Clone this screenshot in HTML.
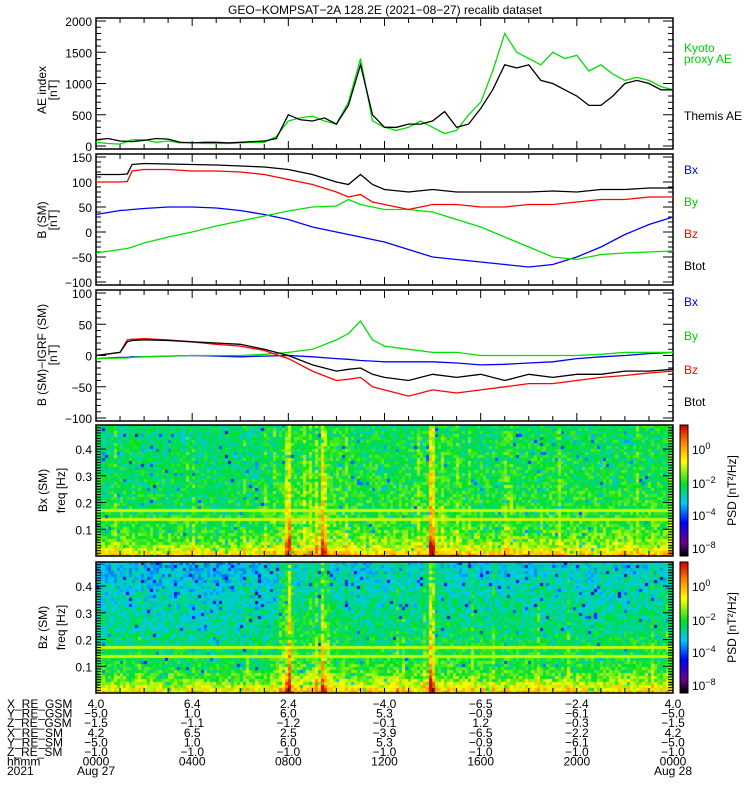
<!DOCTYPE html>
<html><head><meta charset="utf-8">
<style>
html,body{margin:0;padding:0;background:#fff;width:750px;height:800px;overflow:hidden}
#wrap{position:relative;width:750px;height:800px}
svg{position:absolute;left:0;top:0}
canvas{position:absolute}
text{font-family:"Liberation Sans",sans-serif;font-size:12px}
</style></head><body>
<div id="wrap">
<canvas id="spec1" width="577" height="131" style="left:96px;top:425px"></canvas>
<canvas id="spec2" width="577" height="131" style="left:96px;top:562px"></canvas>
<canvas id="cb1" width="8" height="131" style="left:680px;top:425px"></canvas>
<canvas id="cb2" width="8" height="131" style="left:680px;top:562px"></canvas>
<svg id="svg" width="750" height="800" xmlns="http://www.w3.org/2000/svg"></svg>
</div>
<script>
// ---- data ----
const hrsHalf = Array.from({length:49},(_,i)=>i*0.5);
const themisAE = [100,120,80,70,90,120,110,60,50,60,60,50,60,70,80,120,500,420,400,450,350,650,1300,500,300,300,350,350,400,550,300,350,600,900,1300,1250,1300,1050,1000,900,800,650,650,800,1000,1050,1000,900,900];
const kyotoAE = [60,40,30,100,100,60,80,50,60,40,40,40,50,60,60,150,400,450,480,400,350,700,1400,400,300,250,300,400,300,200,250,500,700,1200,1800,1500,1400,1300,1500,1400,1450,1200,1300,1150,1050,1100,1050,950,900];
const hrsB = [0,1,1.3,1.5,2,3,4,5,6,7,8,9,10,10.5,11,11.5,12,13,14,15,16,17,18,19,20,21,22,23,24];
const bBtot = [115,115,116,135,137,136,135,134,132,130,125,115,100,95,115,95,85,80,85,80,80,80,80,82,80,85,85,88,88];
const bBz = [100,100,101,122,125,125,122,122,120,115,105,95,80,70,75,60,55,45,55,55,50,50,55,55,60,65,65,70,70];
const bBx = [35,43,44,45,47,50,50,48,43,35,25,10,0,-5,-10,-15,-20,-35,-50,-55,-60,-65,-70,-65,-50,-30,-5,15,30];
const bBy = [-42,-35,-33,-30,-22,-10,0,12,22,32,42,50,52,65,55,50,45,45,40,25,10,-10,-30,-50,-55,-45,-42,-40,-38];
const dBtot = [0,5,22,24,25,24,22,20,18,10,0,-15,-25,-22,-20,-30,-35,-40,-30,-35,-30,-40,-30,-35,-30,-30,-25,-25,-22];
const dBz = [0,5,25,26,27,25,22,18,15,8,-5,-25,-40,-38,-35,-50,-55,-65,-55,-60,-55,-50,-45,-45,-40,-35,-32,-28,-25];
const dBx = [-5,-3,-3,-2,-2,-1,0,-1,-2,-1,0,-2,-5,-6,-8,-9,-10,-10,-10,-12,-15,-14,-12,-10,-5,-2,0,3,5];
const dBy = [-5,-4,-4,-3,-2,-1,0,0,0,2,5,10,25,35,55,25,15,10,5,5,0,0,0,0,0,2,5,5,5];
const specActivity = [0.55,0.56,0.55,0.55,0.55,0.55,0.55,0.56,0.6,0.6,0.6,0.58,0.58,0.58,0.6,0.58,0.58,0.58,0.58,0.58,0.58,0.57,0.58,0.58,0.58];
const burstHours = [7.9,8.0,9.2,9.35,9.5,13.9,14.0];
const burstStrength = [0.2,0.3,0.15,0.2,0.15,0.35,0.25];
const posRows = ["X_RE_GSM","Y_RE_GSM","Z_RE_GSM","X_RE_SM","Y_RE_SM","Z_RE_SM","hhmm","2021"];
const posCols = [
 ["4.0","-5.0","-1.5","4.2","-5.0","-1.0","0000","Aug 27"],
 ["6.4","1.0","-1.1","6.5","1.0","-1.0","0400",""],
 ["2.4","6.0","-1.2","2.5","6.0","-1.0","0800",""],
 ["-4.0","5.3","-0.1","-3.9","5.3","-1.0","1200",""],
 ["-6.5","-0.9","1.2","-6.5","-0.9","-1.0","1600",""],
 ["-2.4","-6.1","-0.3","-2.2","-6.1","-1.0","2000",""],
 ["4.0","-5.0","-1.5","4.2","-5.0","-1.0","0000","Aug 28"]];

const X0=96,X1=673;
const xs = h => X0 + (X1-X0)*h/24;
const svg=document.getElementById('svg');
const NS="http://www.w3.org/2000/svg";
function el(tag,attrs,parent){const e=document.createElementNS(NS,tag);for(const k in attrs)e.setAttribute(k,attrs[k]);(parent||svg).appendChild(e);return e;}
function txt(x,y,s,opts,parent){const t=el('text',Object.assign({x:x,y:y},opts||{}),parent);t.textContent=s;return t;}
function pretty(s){return s.replace(/-/g,'\u2212');}

const t=txt(385,14,"GEO\u2212KOMPSAT\u22122A 128.2E (2021\u221208\u221227) recalib dataset",{"text-anchor":"middle","font-size":"13"});



function panel(name,top,bot,vmin,vmax,ticks,minorStep,pad){
  const g=el('g',{});
  
  
  const yTop=top+pad,yBot=bot-pad;
  const ys=v=>yBot-(v-vmin)/(vmax-vmin)*(yBot-yTop);
  el('rect',{x:X0,y:top,width:X1-X0,height:bot-top,fill:'none',stroke:'#000','stroke-width':1.5},g);
  for(let v=vmin;v<=vmax+1e-9;v+=minorStep){const y=ys(v);const major=ticks.some(k=>Math.abs(k-v)<1e-9);const L=major?10:5;
    el('line',{x1:X0,y1:y,x2:X0+L,y2:y,stroke:'#000'},g);el('line',{x1:X1-L,y1:y,x2:X1,y2:y,stroke:'#000'},g);}
  ticks.forEach(v=>{txt(92,ys(v)+5,pretty(String(v)),{"text-anchor":"end","font-size":"13"},g);});
  for(let h=1;h<24;h++){const x=xs(h);const L=h%4==0?8:5;el('line',{x1:x,y1:top,x2:x,y2:top+L,stroke:'#000'},g);el('line',{x1:x,y1:bot,x2:x,y2:bot-L,stroke:'#000'},g);}
  return {g,ys};
}
function series(p,hours,vals,color,name){
  const d=vals.map((v,i)=>(i?'L':'M')+xs(hours[i]).toFixed(1)+','+p.ys(v).toFixed(1)).join(' ');
  const path=el('path',{d:d,fill:'none',stroke:color,'stroke-width':1.3},p.g);
  
  
}
function ylabel(x,y,lines,parent){
  const g=el('g',{transform:`translate(${x},${y}) rotate(-90)`},parent);
  lines.forEach((l,i)=>txt(0,i*11,l,{"text-anchor":"middle"},g));
}
function legend(x,y,s,c,n,parent){const e=txt(x,y,s,{fill:c,"font-size":"11"},parent);}

const p1=panel('ae-index-panel',18,149,0,2000,[0,500,1000,1500,2000],100,3);
series(p1,hrsHalf,kyotoAE,'#00e000','kyoto-ae-line');
series(p1,hrsHalf,themisAE,'#000','themis-ae-line');
ylabel(46,90,["AE index","[nT]"],p1.g);
legend(684,52,"Kyoto","#00d000","legend-kyoto",p1.g);legend(684,63,"proxy AE","#00d000","legend-kyoto2",p1.g);
legend(684,120,"Themis AE","#000","legend-themis",p1.g);
const p2=panel('b-sm-panel',154,285,-100,150,[-100,-50,0,50,100,150],10,3);
series(p2,hrsB,bBx,'#0000ff','bx-line');series(p2,hrsB,bBy,'#00e000','by-line');
series(p2,hrsB,bBz,'#ff0000','bz-line');series(p2,hrsB,bBtot,'#000','btot-line');
ylabel(46,220,["B (SM)","[nT]"],p2.g);
legend(684,174,"Bx","#0000ff","legend-bx",p2.g);legend(684,206,"By","#00d000","legend-by",p2.g);
legend(684,238,"Bz","#ff0000","legend-bz",p2.g);legend(684,270,"Btot","#000","legend-btot",p2.g);
const p3=panel('b-minus-igrf-panel',290,421,-100,100,[-100,-50,0,50,100],10,3);
series(p3,hrsB,dBx,'#0000ff','dbx-line');series(p3,hrsB,dBy,'#00e000','dby-line');
series(p3,hrsB,dBz,'#ff0000','dbz-line');series(p3,hrsB,dBtot,'#000','dbtot-line');
ylabel(46,355,["B (SM)\u2212IGRF (SM)","[nT]"],p3.g);
legend(684,306,"Bx","#0000ff","legend-dbx",p3.g);legend(684,340,"By","#00d000","legend-dby",p3.g);
legend(684,374,"Bz","#ff0000","legend-dbz",p3.g);legend(684,406,"Btot","#000","legend-dbtot",p3.g);

function specPanel(name,top,bot,label){
  const g=el('g',{});
  el('rect',{x:X0,y:top,width:X1-X0,height:bot-top,fill:'none',stroke:'#000','stroke-width':1.5},g);
  const ys=f=>bot-f/0.49*(bot-top);
  for(let f=0.01;f<0.49;f+=0.01){const y=ys(f);const L=(Math.round(f*100)%10==0)?10:5;el('line',{x1:X0,y1:y,x2:X0+L,y2:y,stroke:'#000'},g);el('line',{x1:X1-L,y1:y,x2:X1,y2:y,stroke:'#000'},g);}
  [0.1,0.2,0.3,0.4].forEach(f=>txt(92,ys(f)+5,String(f),{"text-anchor":"end","font-size":"13"},g));
  for(let h=1;h<24;h++){const x=xs(h);el('line',{x1:x,y1:bot,x2:x,y2:bot-5,stroke:'#000'},g);}
  ylabel(47,(top+bot)/2,[label],g);ylabel(65,(top+bot)/2,["freq [Hz]"],g);
  el('rect',{x:680,y:top,width:8,height:bot-top,fill:'none',stroke:'#000'},g);
  [["10","0",449-425],["10","\u22122",483-425],["10","\u22124",515-425],["10","\u22128",548-425]].forEach(a=>{
    const e=txt(692,top+a[2]+5,a[0],{"font-size":"12"},g);const s=el('tspan',{dy:-5,"font-size":"9"},e);s.textContent=a[1];});
  ylabel(736,(top+bot)/2,["PSD [nT\u00b2/Hz]"],g);
}
specPanel('bx-spectrogram-panel',425,556,"Bx (SM)");
specPanel('bz-spectrogram-panel',562,693,"Bz (SM)");

const stops=[[0,[0,0,0]],[0.1,[110,0,140]],[0.25,[0,0,255]],[0.4,[0,200,255]],[0.55,[0,225,40]],[0.72,[255,255,0]],[0.86,[255,140,0]],[1,[210,0,0]]];
function cmap(v){v=Math.max(0,Math.min(1,v));for(let i=1;i<stops.length;i++){if(v<=stops[i][0]){const a=stops[i-1],b=stops[i];const t=(v-a[0])/(b[0]-a[0]);return a[1].map((c,k)=>Math.round(c+(b[1][k]-c)*t));}}return stops[stops.length-1][1];}
function hash(a,b,s){let h=(a*374761393+b*668265263+s*982451653)|0;h=(h^(h>>>13))*1274126177|0;return ((h^(h>>>16))>>>0)/4294967296;}
function interp(h){const i=Math.min(23,Math.floor(h));const t=h-i;return specActivity[i]*(1-t)+specActivity[i+1]*t;}
function drawSpec(id,seed,topBias){
  const c=document.getElementById(id).getContext('2d');const W=577,H=131,cw=3,ch=3;
  for(let i=0;i*cw<W;i++){const h=(i*cw+1)/W*24;const act=interp(h);
    let burst=0;burstHours.forEach((b,k)=>{if(Math.abs(h-b)<0.065)burst=Math.max(burst,burstStrength[k]);});
    const col=hash(i,7,seed)<0.12?0.06:0;
    for(let j=0;j*ch<H;j++){const f=0.49*(1-(j*ch+1)/H);
      let v=act-topBias*f+0.25*Math.exp(-f/0.04)+(hash(i,j,seed)-0.5)*0.16+col+burst*(0.5+0.5*Math.exp(-f/0.15));
      if(hash(j,i,seed+9)<0.04)v-=0.18;
      if(Math.abs(f-0.17)<0.005||Math.abs(f-0.14)<0.004)v=Math.max(v,0.68);
      const rgb=cmap(v);c.fillStyle=`rgb(${rgb})`;c.fillRect(i*cw,j*ch,cw,ch);}}
}
drawSpec('spec1',1,0.12);drawSpec('spec2',2,0.32);
['cb1','cb2'].forEach(id=>{const c=document.getElementById(id).getContext('2d');for(let y=0;y<131;y++){c.fillStyle=`rgb(${cmap(1-y/130)})`;c.fillRect(0,y,8,1);}});

const pt=el('g',{});
posRows.forEach((r,i)=>txt(7,708+i*9.6,r,{"font-size":"11.5"},pt));
posCols.forEach((col,k)=>col.forEach((v,i)=>{if(v)txt(xs(k*4),708+i*9.6,pretty(v),{"text-anchor":"middle","font-size":"11.5"},pt);}));
</script>
</body></html>
